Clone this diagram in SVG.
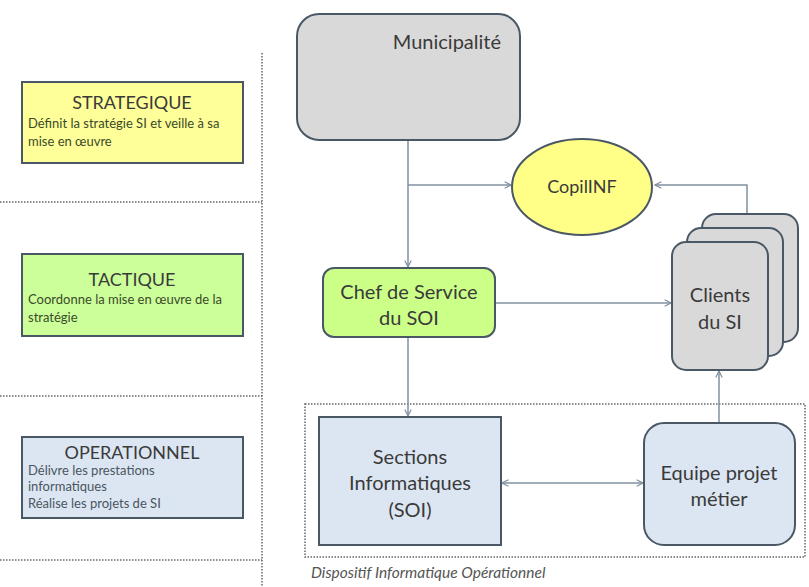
<svg xmlns="http://www.w3.org/2000/svg" width="809" height="587" viewBox="0 0 809 587">
<style>
.t{font-family:Lato,"Open Sans","Liberation Sans",sans-serif;fill:#3a3a3a;}
.h{font-size:18px;text-anchor:middle;}
.s{font-size:13px;fill:#3a4a2a;}
.n{font-size:20px;text-anchor:middle;}
.dot{stroke:#666;stroke-width:1.5;stroke-dasharray:1.5 1.5;fill:none;}
.box{stroke:#4a5866;stroke-width:2;}
.c{stroke:#8090a0;stroke-width:1.5;fill:none;}
</style>
<defs>
<marker id="a" viewBox="0 0 10 10" refX="9" refY="5" markerWidth="8" markerHeight="8" orient="auto-start-reverse" markerUnits="userSpaceOnUse">
<path d="M1 1 L9 5 L1 9" fill="none" stroke="#8090a0" stroke-width="1.5"/>
</marker>
</defs>
<rect width="809" height="587" fill="#fff"/>
<g id="separators">
<line class="dot" x1="262" y1="53" x2="262" y2="587"/>
<line class="dot" x1="0" y1="202" x2="262" y2="202"/>
<line class="dot" x1="0" y1="396" x2="262" y2="396"/>
<line class="dot" x1="0" y1="560" x2="262" y2="560"/>
</g>
<g id="strategique">
<rect class="box" x="22" y="82" width="221" height="81" fill="#ffff99"/>
<text class="t h" x="132" y="109">STRATEGIQUE</text>
<text class="t s" x="28" y="128">Définit la stratégie SI et veille à sa</text>
<text class="t s" x="28" y="146">mise en œuvre</text>
</g>
<g id="tactique">
<rect class="box" x="22" y="254" width="221" height="82" fill="#ccff99"/>
<text class="t h" x="132" y="286">TACTIQUE</text>
<text class="t s" x="28" y="304">Coordonne la mise en œuvre de la</text>
<text class="t s" x="28" y="322">stratégie</text>
</g>
<g id="operationnel">
<rect class="box" x="22" y="437" width="221" height="81" fill="#dce6f2"/>
<text class="t h" x="132" y="459">OPERATIONNEL</text>
<text class="t s" x="28" y="475" style="fill:#4a5560">Délivre les prestations</text>
<text class="t s" x="28" y="491" style="fill:#4a5560">informatiques</text>
<text class="t s" x="28" y="508" style="fill:#4a5560">Réalise les projets de SI</text>
</g>
<g id="dispositif">
<rect class="dot" x="305" y="404" width="500" height="153"/>
<text class="t" x="311" y="578" style="font-size:15.5px;font-style:italic;fill:#555">Dispositif Informatique Opérationnel</text>
</g>
<g id="connectors">
<line class="c" x1="408" y1="140" x2="408" y2="267" marker-end="url(#a)"/>
<line class="c" x1="408" y1="185" x2="511" y2="185" marker-end="url(#a)"/>
<polyline class="c" points="747,214 747,185 655,185" marker-end="url(#a)"/>
<line class="c" x1="495" y1="303" x2="671" y2="303" marker-end="url(#a)"/>
<line class="c" x1="408" y1="337" x2="408" y2="416" marker-end="url(#a)"/>
<line class="c" x1="502" y1="483" x2="643" y2="483" marker-start="url(#a)" marker-end="url(#a)"/>
<line class="c" x1="719" y1="423" x2="719" y2="371" marker-end="url(#a)"/>
</g>
<g id="municipalite">
<rect class="box" x="297" y="14" width="223" height="126" rx="22" fill="#d9d9d9"/>
<text class="t n" x="501" y="49" style="text-anchor:end">Municipalité</text>
</g>
<g id="copilinf">
<ellipse class="box" cx="582" cy="187" rx="70" ry="48" fill="#ffff88"/>
<text class="t n" x="582" y="193" style="font-size:18px">CopilINF</text>
</g>
<g id="clients">
<rect class="box" x="702" y="214" width="96" height="128" rx="14" fill="#d9d9d9"/>
<rect class="box" x="687" y="228" width="96" height="128" rx="14" fill="#d9d9d9"/>
<rect class="box" x="672" y="242" width="96" height="128" rx="14" fill="#d9d9d9"/>
<text class="t n" x="720" y="302">Clients</text>
<text class="t n" x="720" y="329">du SI</text>
</g>
<g id="chef">
<rect class="box" x="323" y="268" width="172" height="69" rx="11" fill="#ccff88"/>
<text class="t n" x="409" y="299">Chef de Service</text>
<text class="t n" x="409" y="325">du SOI</text>
</g>
<g id="sections">
<rect class="box" x="319" y="417" width="182" height="128" fill="#dce6f2"/>
<text class="t n" x="410" y="464">Sections</text>
<text class="t n" x="410" y="490">Informatiques</text>
<text class="t n" x="410" y="517">(SOI)</text>
</g>
<g id="equipe">
<rect class="box" x="644" y="423" width="151" height="122" rx="20" fill="#dce6f2"/>
<text class="t n" x="719" y="480">Equipe projet</text>
<text class="t n" x="719" y="506">métier</text>
</g>
</svg>
